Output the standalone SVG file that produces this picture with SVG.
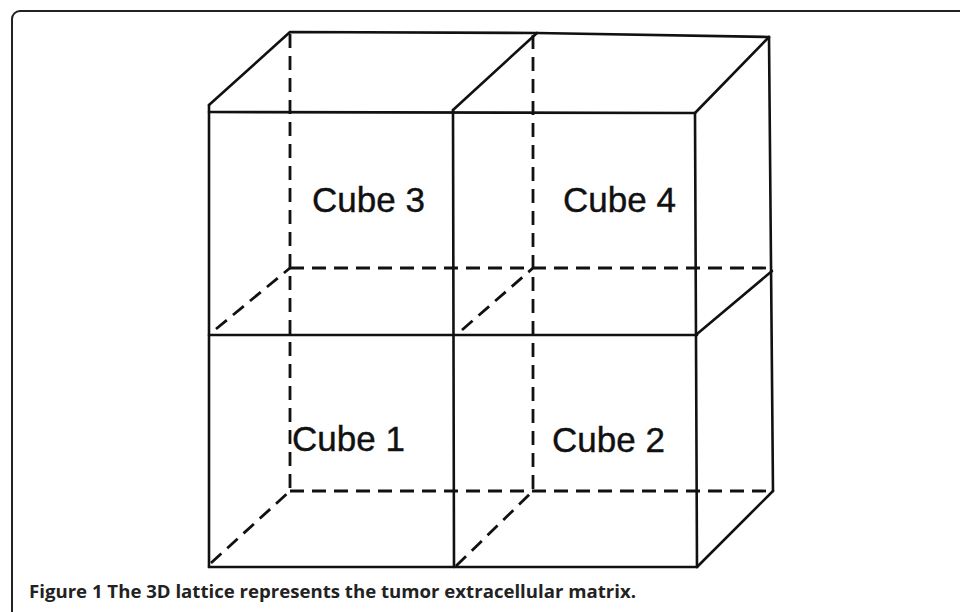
<svg xmlns="http://www.w3.org/2000/svg" width="960" height="612" viewBox="0 0 960 612">
<style>
.s{stroke:#111;stroke-width:2.6;fill:none;stroke-linecap:round;stroke-linejoin:round}
.d{stroke:#111;stroke-width:2.8;fill:none;stroke-dasharray:14 8}
.lbl{font-family:"Liberation Sans",Arial,sans-serif;font-size:35px;fill:#111;stroke:#111;stroke-width:0.4}
.cap{font-family:"Open Sans","Noto Sans",sans-serif;font-weight:bold;font-size:18px;fill:#222}
</style>
<rect width="960" height="612" fill="#fff"/>
<rect id="frame" x="12" y="11" width="1000" height="700" rx="8" fill="none" stroke="#222" stroke-width="2"/>
<g id="connectors">
  <line class="d" x1="290" y1="34" x2="290" y2="491"/>
  <line class="d" x1="533" y1="35" x2="533" y2="491"/>
  <line class="d" x1="290" y1="268" x2="772" y2="268"/>
  <line class="d" x1="290" y1="491" x2="773" y2="491"/>
  <line class="d" x1="216" y1="329" x2="290" y2="268"/>
  <line class="d" x1="462" y1="330" x2="533" y2="268"/>
  <line class="d" x1="211" y1="563" x2="290" y2="491"/>
  <line class="d" x1="456" y1="566" x2="533" y2="491"/>
  <polyline class="s" points="209,105 290,32 537,33 769,37"/>
  <line class="s" x1="209" y1="105" x2="209" y2="567"/>
  <line class="s" x1="209" y1="112" x2="695" y2="113"/>
  <line class="s" x1="453" y1="110" x2="537" y2="33"/>
  <line class="s" x1="695" y1="113" x2="769" y2="37"/>
  <line class="s" x1="453" y1="110" x2="454" y2="567"/>
  <line class="s" x1="695" y1="113" x2="697" y2="567"/>
  <line class="s" x1="769" y1="37" x2="773" y2="491"/>
  <line class="s" x1="209" y1="335" x2="697" y2="335"/>
  <line class="s" x1="697" y1="334" x2="772" y2="271"/>
  <line class="s" x1="209" y1="567" x2="697" y2="567"/>
  <line class="s" x1="697" y1="567" x2="773" y2="491"/>
</g>
<g id="cube3"><text class="lbl" x="312" y="212">Cube 3</text></g>
<g id="cube4"><text class="lbl" x="563" y="212">Cube 4</text></g>
<g id="cube1"><text class="lbl" x="292" y="451">Cube 1</text></g>
<g id="cube2"><text class="lbl" x="552" y="452">Cube 2</text></g>
<g id="caption"><text class="cap" x="29" y="598" textLength="607" lengthAdjust="spacingAndGlyphs">Figure 1 The 3D lattice represents the tumor extracellular matrix.</text></g>
</svg>
